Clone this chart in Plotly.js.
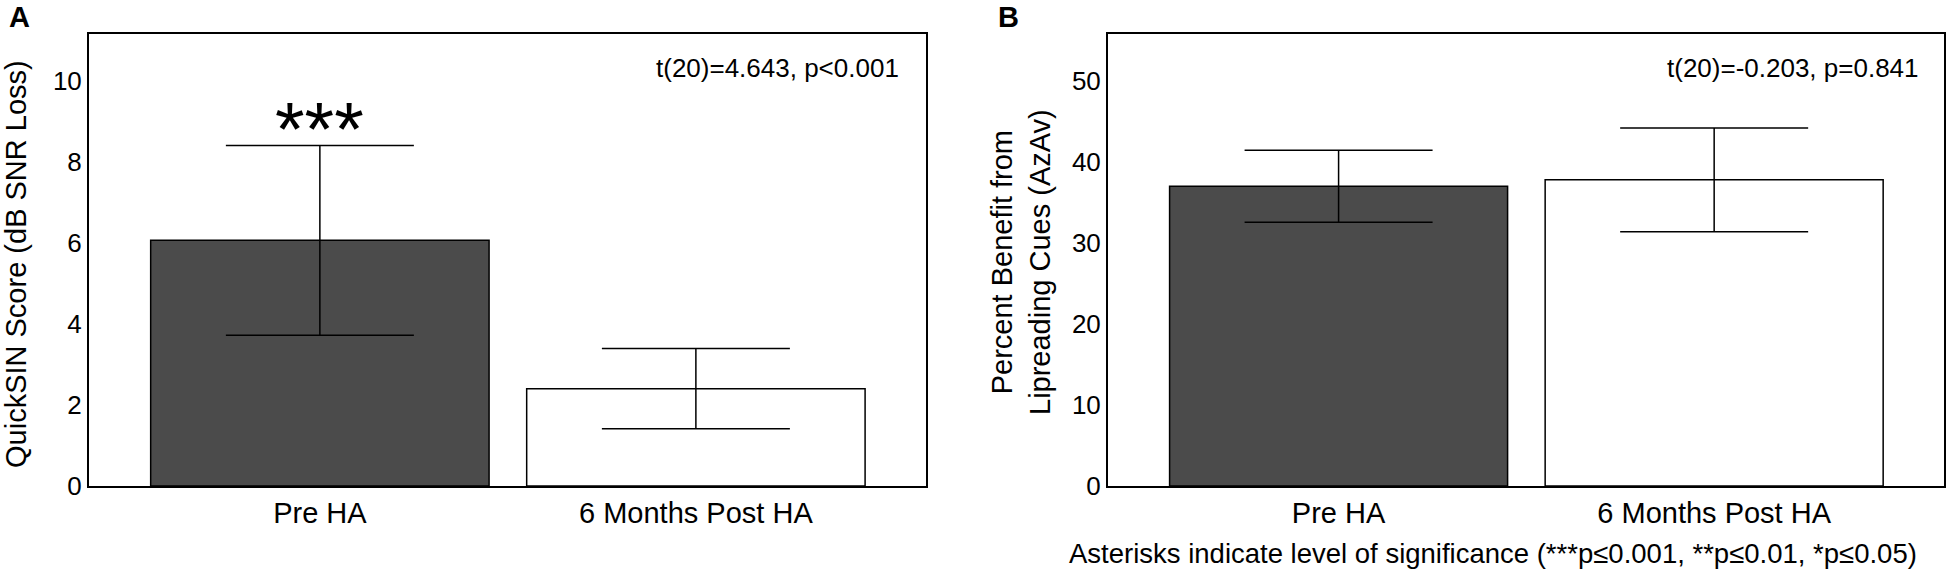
<!DOCTYPE html>
<html>
<head>
<meta charset="utf-8">
<script src="https://cdn.plot.ly/plotly-3.0.1.min.js"></script>
<style>
  html, body { margin: 0; padding: 0; background: #fff; }
  #chart { width: 1950px; height: 574px; }
</style>
</head>
<body>
<div id="chart"></div>
<script>
// groups on both panels
var groups = ['Pre HA', '6 Months Post HA'];

// panel A: QuickSIN score (dB SNR loss)
var quicksinMean = [6.06, 2.40];
var quicksinErr = [2.34, 0.99];

// panel B: percent benefit from lipreading cues (AzAv)
var lipreadMean = [37.0, 37.8];
var lipreadErr = [4.45, 6.4];

var barColors = ['#4b4b4b', '#ffffff'];
var font = '"Liberation Sans", Arial, Helvetica, sans-serif';

var W = 1950, H = 574;
function px(x) { return x / W; }
function py(y) { return 1 - y / H; }

var traceA = {
  x: groups,
  y: quicksinMean,
  type: 'bar',
  width: 0.9,
  marker: { color: barColors, line: { color: '#000', width: 1.5 } },
  error_y: { type: 'data', array: quicksinErr, visible: true, color: '#000', thickness: 1.5, width: 94 },
  xaxis: 'x', yaxis: 'y',
  hoverinfo: 'x+y'
};

var traceB = {
  x: groups,
  y: lipreadMean,
  type: 'bar',
  width: 0.9,
  marker: { color: barColors, line: { color: '#000', width: 1.5 } },
  error_y: { type: 'data', array: lipreadErr, visible: true, color: '#000', thickness: 1.5, width: 94 },
  xaxis: 'x2', yaxis: 'y2',
  hoverinfo: 'x+y'
};

var xBase = {
  type: 'category',
  range: [-0.614, 1.612],
  showline: true, mirror: true, linecolor: '#000', linewidth: 2,
  ticks: '', showgrid: false, zeroline: false, fixedrange: true,
  tickfont: { family: font, size: 29, color: '#000' }
};
var yBase = {
  domain: [py(486), py(34)],
  showline: true, mirror: true, linecolor: '#000', linewidth: 2,
  ticks: '', showgrid: false, zeroline: false, fixedrange: true,
  tickfont: { family: font, size: 26, color: '#000' }
};

var layout = {
  width: W, height: H,
  margin: { l: 0, r: 0, t: 0, b: 0 },
  paper_bgcolor: '#fff', plot_bgcolor: '#fff',
  showlegend: false,
  font: { family: font, color: '#000' },
  xaxis: Object.assign({}, xBase, { domain: [px(89), px(926)], anchor: 'y' }),
  yaxis: Object.assign({}, yBase, { range: [0, 11.15], dtick: 2, anchor: 'x' }),
  xaxis2: Object.assign({}, xBase, { domain: [px(1108), px(1944)], anchor: 'y2' }),
  yaxis2: Object.assign({}, yBase, { range: [0, 55.8], dtick: 10, anchor: 'x2' }),
  annotations: [
    { text: '<b>A</b>', xref: 'paper', yref: 'paper', x: px(7), y: py(17), xanchor: 'left', yanchor: 'middle',
      showarrow: false, font: { size: 29 } },
    { text: '<b>B</b>', xref: 'paper', yref: 'paper', x: px(996), y: py(17), xanchor: 'left', yanchor: 'middle',
      showarrow: false, font: { size: 29 } },
    { text: 'QuickSIN Score (dB SNR Loss)', xref: 'paper', yref: 'paper', x: px(16), y: py(264),
      xanchor: 'center', yanchor: 'middle', textangle: -90, showarrow: false, font: { size: 29 } },
    { text: 'Percent Benefit from<br>Lipreading Cues (AzAv)', xref: 'paper', yref: 'paper', x: px(1021), y: py(262),
      xanchor: 'center', yanchor: 'middle', textangle: -90, showarrow: false, font: { size: 29 } },
    { text: 't(20)=4.643, p<0.001', xref: 'paper', yref: 'paper', x: px(901), y: py(68),
      xanchor: 'right', yanchor: 'middle', showarrow: false, font: { size: 26 } },
    { text: 't(20)=-0.203, p=0.841', xref: 'paper', yref: 'paper', x: px(1921), y: py(68),
      xanchor: 'right', yanchor: 'middle', showarrow: false, font: { size: 26 } },
    { text: '***', xref: 'x', yref: 'y', x: groups[0], y: quicksinMean[0] + quicksinErr[0],
      yshift: -28, xanchor: 'center', yanchor: 'bottom', showarrow: false, font: { size: 76 } },
    { text: 'Asterisks indicate level of significance (***p\u22640.001, **p\u22640.01, *p\u22640.05)',
      xref: 'paper', yref: 'paper', x: px(1067), y: py(553), xanchor: 'left', yanchor: 'middle',
      showarrow: false, font: { size: 27.5 } }
  ]
};

Plotly.newPlot('chart', [traceA, traceB], layout, { displayModeBar: false, staticPlot: true });
</script>
</body>
</html>
